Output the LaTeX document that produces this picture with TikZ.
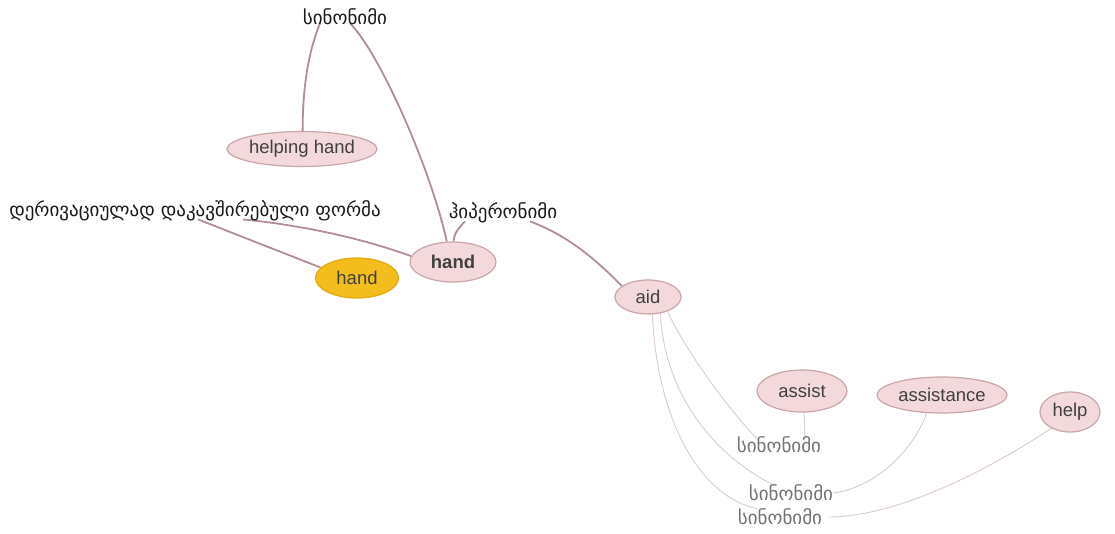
\documentclass[tikz,border=0pt]{standalone}
\usepackage{fontspec}
\setmainfont{Liberation Sans}
\newfontfamily\geo{DejaVu Sans}
\usetikzlibrary{shapes.geometric,backgrounds}
\definecolor{rozsa}{HTML}{F3D9DB}
\definecolor{rozsakeret}{HTML}{C9A6A9}
\definecolor{elszin}{HTML}{B08E93}
\definecolor{elhalv}{HTML}{DCCBCC}
\definecolor{sarga}{HTML}{F2BD1D}
\definecolor{sargakeret}{HTML}{E3A90C}
\tikzset{
  szo/.style={ellipse,draw=rozsakeret,fill=rozsa,line width=1.2pt,inner sep=0pt,
    text=black!75,font=\fontsize{18.5}{22}\selectfont},
  sargaszo/.style={szo,draw=sargakeret,fill=sarga},
  cimke/.style={inner sep=0pt,font=\geo\fontsize{19}{22}\selectfont,text=black!90},
  hcimke/.style={cimke,text=black!55},
  kapcs/.style={draw=elszin,line width=1.8pt},
  hkapcs/.style={draw=elhalv,line width=0.9pt},
}

\begin{document}
\begin{tikzpicture}[x=1pt,y=-1pt]
  \useasboundingbox (0,0) rectangle (1115,533);
  % cimkek
  \node[cimke] (synfent) at (345,17) {სინონიმი};
  \node[cimke] (deriv) at (195,211) {დერივაციულად დაკავშირებული ფორმა};
  \node[cimke] (hiper) at (503,213) {ჰიპერონიმი};
  \node[hcimke] (syn1) at (779,445) {სინონიმი};
  \node[hcimke] (syn2) at (791,493) {სინონიმი};
  \node[hcimke] (syn3) at (780,517) {სინონიმი};
  % szavak
  \node[szo,minimum width=150pt,minimum height=35pt] (helping) at (302,149) {helping hand};
  \node[szo,minimum width=86pt,minimum height=40pt,font=\fontsize{18.5}{22}\selectfont\bfseries] (handb) at (453,262) {hand};
  \node[sargaszo,minimum width=83pt,minimum height=40pt] (handy) at (357,278) {hand};
  \node[szo,minimum width=66pt,minimum height=34pt] (aid) at (648,297) {aid};
  \node[szo,minimum width=90pt,minimum height=42pt] (assist) at (802,391) {assist};
  \node[szo,minimum width=130pt,minimum height=36pt] (assistance) at (942,395) {assistance};
  \node[szo,minimum width=60pt,minimum height=40pt] (help) at (1070,412) {help};
  % kapcsolatok (a szavak ala)
  \begin{scope}[on background layer]
  \draw[kapcs] ([xshift=-25pt,yshift=2pt]synfent.south) .. controls +(-10,25) and +(0,-50) .. (helping.88);
  \draw[kapcs] ([xshift=5pt,yshift=2pt]synfent.south) .. controls +(30,30) and +(-15,-70) .. (handb.107);
  \draw[kapcs] ([xshift=3pt,yshift=2pt]deriv.south) -- (handy.164);
  \draw[kapcs] ([xshift=48pt,yshift=2pt]deriv.south) .. controls +(60,6) and +(-50,-18) .. (handb.172);
  \draw[kapcs] ([xshift=-38pt,yshift=2pt]hiper.south) .. controls +(-6,6) and +(0,-8) .. (handb.88);
  \draw[kapcs] ([xshift=27pt,yshift=2pt]hiper.south) .. controls +(40,15) and +(-25,-25) .. (aid.157);
  \draw[hkapcs] (aid.-36) .. controls +(15,35) and +(-30,-30) .. ([xshift=-20pt,yshift=-4pt]syn1.north);
  \draw[hkapcs] (aid.-53) .. controls +(5,90) and +(-50,-25) .. ([xshift=-18pt]syn2.north);
  \draw[hkapcs] (aid.-76) .. controls +(5,110) and +(-55,-10) .. ([xshift=-22pt]syn3.north);
  \draw[hkapcs] (assist.-85) -- ([xshift=26pt]syn1.north);
  \draw[hkapcs] (assistance.-130) .. controls +(-15,40) and +(40,-5) .. (syn2.east);
  \draw[hkapcs] (help.-139) .. controls +(-60,40) and +(70,0) .. ([xshift=6pt]syn3.east);
  \end{scope}
\end{tikzpicture}
\end{document}
